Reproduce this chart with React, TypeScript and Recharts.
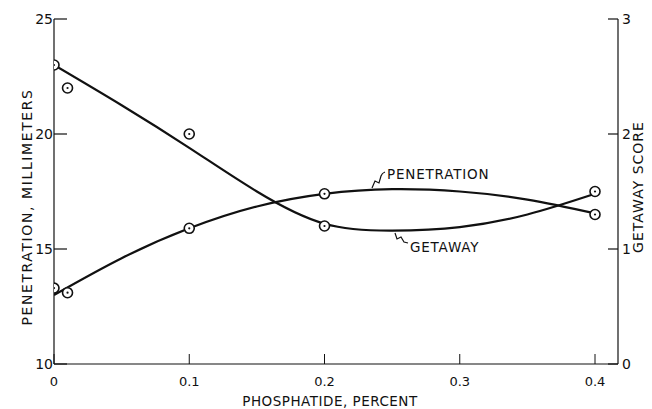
import React from "react"
import {
  ComposedChart,
  Line,
  Scatter,
  XAxis,
  YAxis,
} from "recharts"

// smooth curves as drawn (read at 0.05 steps)
const curveX = [0, 0.05, 0.1, 0.15, 0.2, 0.25, 0.3, 0.35, 0.4]
const penetrationCurve = [13.0, 14.6, 15.9, 16.85, 17.4, 17.6, 17.5, 17.15, 16.55]
const getawayCurve = [2.6, 2.25, 1.88, 1.5, 1.22, 1.16, 1.19, 1.3, 1.48]

// measured points
const pointX = [0, 0.01, 0.1, 0.2, 0.4]
const penetrationPoints = [13.3, 13.1, 15.9, 17.4, 16.5]
const getawayPoints = [2.6, 2.4, 2.0, 1.2, 1.5]

const xTicks = [0, 0.1, 0.2, 0.3, 0.4]
const leftTicks = [10, 15, 20, 25]
const rightTicks = [0, 1, 2, 3]

const curveData = curveX.map((x, i) => ({
  x,
  pen: penetrationCurve[i],
  get: getawayCurve[i],
}))
const penData = pointX.map((x, i) => ({ x, y: penetrationPoints[i] }))
const getData = pointX.map((x, i) => ({ x, y: getawayPoints[i] }))

const FONT = "'DejaVu Sans', sans-serif"
const INK = "#111"

function Marker(props: any) {
  const { cx, cy } = props
  if (cx == null || cy == null) return null
  return (
    <g>
      <circle cx={cx} cy={cy} r={5} fill="#fff" stroke={INK} strokeWidth={1.6} />
      <circle cx={cx} cy={cy} r={1.1} fill={INK} />
    </g>
  )
}

function BottomTick(props: any) {
  const { x, y, payload } = props
  return (
    <g>
      <line x1={x} x2={x} y1={y} y2={y - 10} stroke={INK} strokeWidth={1} />
      <text x={x} y={y + 22} textAnchor="middle" fontFamily={FONT} fontSize={13} fill={INK}>
        {String(payload.value)}
      </text>
    </g>
  )
}

function LeftTick(props: any) {
  const { x, y, payload } = props
  return (
    <g>
      <line x1={x} x2={x + 13} y1={y} y2={y} stroke={INK} strokeWidth={1.2} />
      <text x={x - 1} y={y + 5} textAnchor="end" fontFamily={FONT} fontSize={14} fill={INK}>
        {String(payload.value)}
      </text>
    </g>
  )
}

function RightTick(props: any) {
  const { x, y, payload } = props
  return (
    <g>
      <line x1={x} x2={x - 10} y1={y} y2={y} stroke={INK} strokeWidth={1.2} />
      <text x={x + 4} y={y + 5} textAnchor="start" fontFamily={FONT} fontSize={14} fill={INK}>
        {String(payload.value)}
      </text>
    </g>
  )
}

export default function App() {
  return (
    <div style={{ position: "absolute", left: 0, top: 0, background: "#fff" }}>
      <ComposedChart
        width={652}
        height={409}
        data={curveData}
        margin={{ top: 19, right: 0, bottom: 0, left: 0 }}
      >
        <XAxis
          dataKey="x"
          type="number"
          domain={[0, 0.417]}
          ticks={xTicks}
          tickSize={0}
          tickMargin={0}
          tickLine={false}
          tick={<BottomTick />}
          axisLine={{ stroke: INK, strokeWidth: 1.2 }}
          height={45}
          allowDataOverflow
        />
        <YAxis
          yAxisId="left"
          type="number"
          domain={[10, 25]}
          ticks={leftTicks}
          tickSize={0}
          tickMargin={0}
          tickLine={false}
          tick={<LeftTick />}
          axisLine={{ stroke: INK, strokeWidth: 1.2 }}
          width={54}
        />
        <YAxis
          yAxisId="right"
          orientation="right"
          type="number"
          domain={[0, 3]}
          ticks={rightTicks}
          tickSize={0}
          tickMargin={0}
          tickLine={false}
          tick={<RightTick />}
          axisLine={{ stroke: INK, strokeWidth: 1.2 }}
          width={34}
        />
        <Line
          yAxisId="left"
          dataKey="pen"
          type="natural"
          stroke={INK}
          strokeWidth={2.2}
          dot={false}
          activeDot={false}
          isAnimationActive={false}
        />
        <Line
          yAxisId="right"
          dataKey="get"
          type="natural"
          stroke={INK}
          strokeWidth={2.2}
          dot={false}
          activeDot={false}
          isAnimationActive={false}
        />
        <Scatter
          yAxisId="left"
          data={penData}
          dataKey="y"
          shape={<Marker />}
          isAnimationActive={false}
        />
        <Scatter
          yAxisId="right"
          data={getData}
          dataKey="y"
          shape={<Marker />}
          isAnimationActive={false}
        />

        {/* axis titles */}
        <text
          x={27}
          y={207}
          transform="rotate(-90, 27, 207)"
          textAnchor="middle"
          dominantBaseline="central"
          fontFamily={FONT}
          fontSize={14}
          letterSpacing={1.6}
          fill={INK}
        >
          PENETRATION, MILLIMETERS
        </text>
        <text
          x={638}
          y={187}
          transform="rotate(-90, 638, 187)"
          textAnchor="middle"
          dominantBaseline="central"
          fontFamily={FONT}
          fontSize={14}
          letterSpacing={1}
          fill={INK}
        >
          GETAWAY SCORE
        </text>
        <text
          x={330}
          y={406}
          textAnchor="middle"
          fontFamily={FONT}
          fontSize={13.5}
          letterSpacing={0.5}
          fill={INK}
        >
          PHOSPHATIDE, PERCENT
        </text>

        {/* curve annotations */}
        <path
          d="M372,188 L375,181 L379,183 L381,176 Q382,173 385,172"
          fill="none"
          stroke={INK}
          strokeWidth={1.2}
        />
        <text x={387} y={179} fontFamily={FONT} fontSize={13.5} letterSpacing={0.8} fill={INK}>
          PENETRATION
        </text>
        <path
          d="M395,233 L397,239 L401,237 L404,242 L408,243"
          fill="none"
          stroke={INK}
          strokeWidth={1.2}
        />
        <text x={410} y={252} fontFamily={FONT} fontSize={13.5} letterSpacing={0.8} fill={INK}>
          GETAWAY
        </text>
      </ComposedChart>
    </div>
  )
}
